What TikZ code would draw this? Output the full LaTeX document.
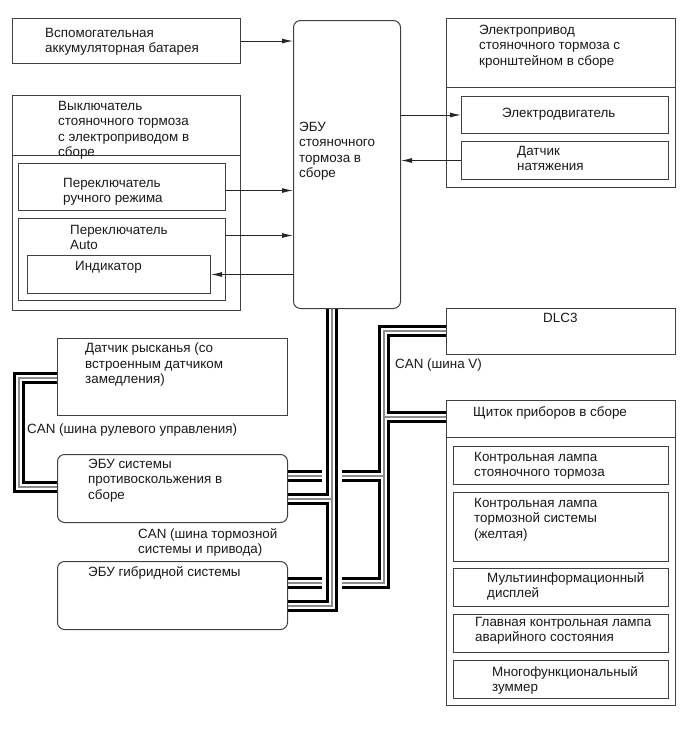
\documentclass[tikz,border=0pt]{standalone}
\usepackage{fontspec}
\setmainfont{Liberation Sans}
\usetikzlibrary{arrows.meta, backgrounds}

\begin{document}
\begin{tikzpicture}[
        x=1pt, y=-1pt,
        box/.style={draw=black!75, line width=1pt, fill=white, inner sep=0pt,
            anchor=north west, minimum width=#1},
        box/.default=228pt,
        rbox/.style={box=#1, rounded corners=7pt},
        rbox/.default=230pt,
        txt/.style={anchor=north west, inner sep=0pt, align=left, text=black!90,
            font=\fontsize{13.4}{15.3}\selectfont},
        arr/.style={-{Latex[length=11pt,width=5pt]}, draw=black!85, line width=1pt},
        frame/.style={draw=black!75, line width=1pt},
    ]
    \useasboundingbox (0,0) rectangle (690,756);

    % ---------------- left column: inputs ----------------
    \node[box, minimum height=45pt] (batt) at (12,18) {};
    \node[txt] (batttxt) at (45,28) {Вспомогательная\\аккумуляторная батарея};

    \node[box, minimum height=215pt] (sw) at (12,95) {};
    \draw[frame] ([yshift=-60pt]sw.north west) -- ([yshift=-60pt]sw.north east);
    \node[txt] (swtxt) at (58,101)
        {Выключатель\\стояночного тормоза\\с электроприводом в\\сборе};

    \node[box=207pt, minimum height=47pt] (manual) at (18,163) {};
    \node[txt] (manualtxt) at (63,178) {Переключатель\\ручного режима};

    \node[box=207pt, minimum height=82pt] (auto) at (18,218) {};
    \node[txt] (autotxt) at (70,225) {Переключатель\\Auto};

    \node[box=183pt, minimum height=38pt] (ind) at (27,255) {};
    \node[txt] (indtxt) at (75,261) {Индикатор};

    % ---------------- parking brake ECU ----------------
    \node[rbox=107pt, minimum height=288pt] (ecu) at (293,20) {};
    \node[txt] (ecutxt) at (299,122) {ЭБУ\\стояночного\\тормоза в\\сборе};

    % ---------------- actuator ----------------
    \node[box=229pt, minimum height=169pt] (act) at (446,18) {};
    \draw[frame] ([yshift=-69pt]act.north west) -- ([yshift=-69pt]act.north east);
    \node[txt] (acttxt) at (479,25)
        {Электропривод\\стояночного тормоза с\\кронштейном в сборе};

    \node[box=207pt, minimum height=37pt] (motor) at (461,96) {};
    \node[txt] (motortxt) at (502,108) {Электродвигатель};

    \node[box=207pt, minimum height=38pt] (sensor) at (461,141) {};
    \node[txt] (sensortxt) at (517,146) {Датчик\\натяжения};

    % arrows to / from the ECU
    \draw[arr] (batt.east) -- (batt.east -| ecu.west);
    \draw[arr] ([yshift=-3.5pt]manual.east) -- ([yshift=-3.5pt]manual.east -| ecu.west);
    \draw[arr] ([yshift=24pt]auto.east) -- ([yshift=24pt]auto.east -| ecu.west);
    \draw[arr] (ind.east -| ecu.west) -- (ind.east);
    \draw[arr] (motor.west -| ecu.east) -- (motor.west);
    \draw[arr] (sensor.west) -- (sensor.west -| ecu.east);

    % ---------------- CAN side ----------------
    \node[box=230pt, minimum height=77pt] (yaw) at (57,338) {};
    \node[txt] (yawtxt) at (85,343)
        {Датчик рысканья (со\\встроенным датчиком\\замедления)};
    \node[txt] (cansteer) at (27,424) {CAN (шина рулевого управления)};

    \node[rbox, minimum height=68pt] (abs) at (57,454) {};
    \node[txt] (abstxt) at (88,459) {ЭБУ системы\\противоскольжения в\\сборе};
    \node[txt] (canbrake) at (138,528) {CAN (шина тормозной\\системы и привода)};

    \node[rbox, minimum height=68pt] (hyb) at (57,561) {};
    \node[txt] (hybtxt) at (88,566) {ЭБУ гибридной системы};

    \node[box=229pt, minimum height=46pt] (dlc) at (446,308) {};
    \node[txt] (dlctxt) at (543,313) {DLC3};
    \node[txt] (canv) at (395,359) {CAN (шина V)};

    % combination meter
    \node[box=229pt, minimum height=305pt] (meter) at (446,400) {};
    \draw[frame] ([yshift=-37pt]meter.north west) -- ([yshift=-37pt]meter.north east);
    \node[txt] (metertxt) at (473,406) {Щиток приборов в сборе};

    \node[box=215pt, minimum height=38pt] (lamp1) at (453,446) {};
    \node[txt] (lamp1txt) at (474,452) {Контрольная лампа\\стояночного тормоза};
    \node[box=215pt, minimum height=69pt] (lamp2) at (453,492) {};
    \node[txt] (lamp2txt) at (474,498) {Контрольная лампа\\тормозной системы\\(желтая)};
    \node[box=215pt, minimum height=38pt] (mfd) at (453,568) {};
    \node[txt] (mfdtxt) at (487,572) {Мультиинформационный\\дисплей};
    \node[box=215pt, minimum height=38pt] (mwl) at (453,614) {};
    \node[txt] (mwltxt) at (475,617) {Главная контрольная лампа\\аварийного состояния};
    \node[box=215pt, minimum height=38pt] (buzz) at (453,660) {};
    \node[txt] (buzztxt) at (492,666) {Многофункциональный\\зуммер};

    % bus corners
    \coordinate (st1) at (19,378);
    \coordinate (st2) at (19,487);
    \coordinate (br1) at (332,606);
    \coordinate (br2) at (332,499);
    \coordinate (v1) at (384,331);
    \coordinate (v2) at (384,583);
    \coordinate (v3) at (384,417);
    \coordinate (v4) at (384,476);
    \coordinate (xl) at (322,0);
    \coordinate (xr) at (342,0);

    \begin{scope}[on background layer]
    \foreach \lw/\lc in {12/black, 6.6/white, 1.3/black!45} {
        \draw[line width=\lw pt, draw=\lc, line join=miter]
            (yaw.west |- st1) -- (st1) -- (st2) -- (abs.west |- st2)
            (br1 |- ecu.south) -- (br1) -- (hyb.east |- br1)
            (abs.east |- br2) -- (br2)
            (dlc.west |- v1) -- (v1) -- (v2) -- (xr |- v2)
            (meter.west |- v3) -- (v3)
            (xr |- v4) -- (v4)
            (abs.east |- v4) -- (xl |- v4)
            (hyb.east |- v2) -- (xl |- v2);
    }
    \end{scope}

\end{tikzpicture}
\end{document}
